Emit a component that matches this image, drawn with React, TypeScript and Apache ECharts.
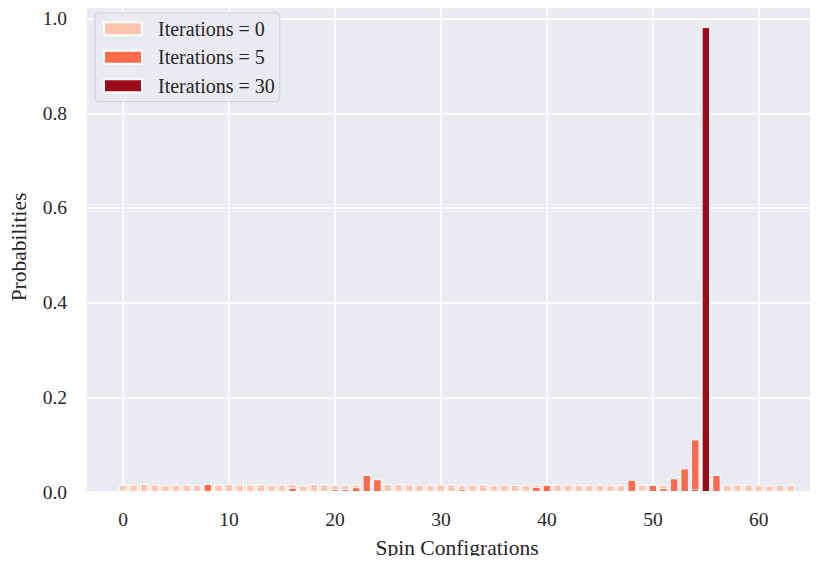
import React, { useEffect, useRef } from "react";
import * as echarts from "echarts";

const configurations = [
  0, 1, 2, 3, 4, 5, 6, 7, 8, 9, 10, 11, 12, 13, 14, 15,
  16, 17, 18, 19, 20, 21, 22, 23, 24, 25, 26, 27, 28, 29, 30, 31,
  32, 33, 34, 35, 36, 37, 38, 39, 40, 41, 42, 43, 44, 45, 46, 47,
  48, 49, 50, 51, 52, 53, 54, 55, 56, 57, 58, 59, 60, 61, 62, 63,
];

const seriesNames = ["Iterations = 0", "Iterations = 5", "Iterations = 30"];

const iter0 = [
  0.015, 0.016, 0.017, 0.016, 0.015, 0.015, 0.016, 0.015, 0.016, 0.016, 0.017, 0.016, 0.016, 0.016, 0.015, 0.016,
  0.017, 0.014, 0.017, 0.016, 0.015, 0.015, 0.016, 0.016, 0.016, 0.017, 0.017, 0.016, 0.015, 0.015, 0.016, 0.016,
  0.015, 0.015, 0.016, 0.015, 0.015, 0.015, 0.015, 0.016, 0.016, 0.016, 0.016, 0.015, 0.015, 0.015, 0.015, 0.015,
  0.016, 0.016, 0.015, 0.015, 0.016, 0.016, 0.016, 0.016, 0.016, 0.015, 0.016, 0.016, 0.015, 0.014, 0.015, 0.015,
];

const iter5 = [
  0.005, 0.002, 0.002, 0.002, 0.002, 0.002, 0.002, 0.002, 0.017, 0.002, 0.002, 0.002, 0.002, 0.002, 0.002, 0.002,
  0.009, 0.002, 0.002, 0.002, 0.006, 0.006, 0.010, 0.036, 0.027, 0.002, 0.002, 0.002, 0.002, 0.002, 0.002, 0.002,
  0.006, 0.002, 0.002, 0.002, 0.002, 0.002, 0.002, 0.011, 0.015, 0.002, 0.002, 0.002, 0.002, 0.002, 0.002, 0.002,
  0.026, 0.005, 0.015, 0.008, 0.029, 0.050, 0.111, 0.450, 0.036, 0.002, 0.002, 0.002, 0.002, 0.002, 0.002, 0.002,
];

const iter30 = [
  0.0005, 0.0005, 0.0005, 0.0005, 0.0005, 0.0005, 0.0005, 0.0005, 0.0005, 0.0005, 0.0005, 0.0005, 0.0005, 0.0005, 0.0005, 0.0005,
  0.0005, 0.0005, 0.0005, 0.0005, 0.0005, 0.0005, 0.0005, 0.0005, 0.0005, 0.0005, 0.0005, 0.0005, 0.0005, 0.0005, 0.0005, 0.0005,
  0.0005, 0.0005, 0.0005, 0.0005, 0.0005, 0.0005, 0.0005, 0.0005, 0.0005, 0.0005, 0.0005, 0.0005, 0.0005, 0.0005, 0.0005, 0.0005,
  0.0005, 0.0005, 0.0005, 0.0005, 0.0005, 0.0005, 0.0055, 0.982, 0.0005, 0.0005, 0.0005, 0.0005, 0.0005, 0.0005, 0.0005, 0.0005,
];

const colors = ["#FDC5AE", "#FB6A4A", "#990C18"];

const FONT = "'Liberation Serif', 'Times New Roman', serif";
const TEXT = "#262626";

export default function App() {
  const ref = useRef<HTMLDivElement>(null);

  useEffect(() => {
    if (!ref.current) return;
    const chart = echarts.init(ref.current, null, { renderer: "svg" });
    const all = [iter0, iter5, iter30];
    chart.setOption({
      animation: false,
      backgroundColor: "#ffffff",
      textStyle: { fontFamily: FONT, color: TEXT },
      grid: {
        left: 86,
        right: 3,
        top: 2,
        bottom: 64,
        show: true,
        backgroundColor: "#EAEAF2",
        borderWidth: 0,
      },
      legend: {
        left: 95,
        top: 13,
        orient: "vertical",
        data: seriesNames,
        icon: "rect",
        itemWidth: 38,
        itemHeight: 13,
        itemGap: 7,
        padding: [5, 5, 5, 8],
        backgroundColor: "#EAEAF2",
        borderColor: "#cfcfd6",
        borderWidth: 1.2,
        borderRadius: 4,
        textStyle: {
          fontFamily: FONT,
          fontSize: 20,
          color: TEXT,
          lineHeight: 21.5,
          padding: [0, 0, 0, 11],
        },
      },
      xAxis: {
        type: "value",
        min: -3.5,
        max: 65.3,
        splitNumber: 5,
        name: "Spin Configrations",
        nameLocation: "middle",
        nameGap: 45,
        nameTextStyle: {
          fontFamily: FONT,
          fontSize: 21.5,
          color: TEXT,
          padding: [0, 0, 0, 13],
        },
        axisLine: { show: false },
        axisTick: { show: false },
        axisLabel: {
          fontFamily: FONT,
          fontSize: 19.5,
          color: TEXT,
          margin: 17,
          showMinLabel: false,
          showMaxLabel: false,
          formatter: (v: number) =>
            Math.abs(v - Math.round(v)) < 1e-6 && Math.round(v) % 10 === 0 ? String(Math.round(v)) : "",
        },
        splitLine: { show: true, lineStyle: { color: "#ffffff", width: 1.8 } },
      },
      yAxis: {
        type: "value",
        min: 0,
        max: 1.035,
        splitNumber: 5,
        name: "Probabilities",
        nameLocation: "middle",
        nameGap: 56,
        nameTextStyle: { fontFamily: FONT, fontSize: 21.5, color: TEXT },
        axisLine: { show: false },
        axisTick: { show: false },
        axisLabel: {
          fontFamily: FONT,
          fontSize: 19.5,
          color: TEXT,
          margin: 19,
          showMaxLabel: false,
          formatter: (v: number) =>
            Math.abs(v * 5 - Math.round(v * 5)) < 1e-6 ? v.toFixed(1) : "",
        },
        splitLine: { show: true, lineStyle: { color: "#ffffff", width: 1.8 } },
      },
      series: seriesNames.map((name, k) => ({
        name,
        type: "bar",
        barWidth: 8.5,
        barGap: "-100%",
        z: 2 + k,
        itemStyle: { color: colors[k], borderColor: "#ffffff", borderWidth: 1 },
        data: configurations.map((c, i) => [c, all[k][i]]),
      })),
    });
    return () => chart.dispose();
  }, []);

  return <div ref={ref} style={{ width: 818, height: 564, margin: -8 }} />;
}
